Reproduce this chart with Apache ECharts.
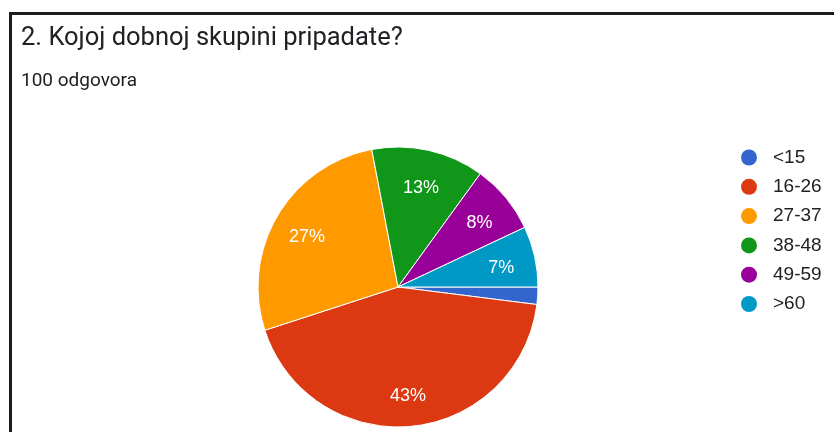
<!DOCTYPE html>
<html>
<head>
<meta charset="utf-8">
<script src="https://cdn.jsdelivr.net/npm/echarts@6/dist/echarts.min.js"></script>
<style>
  html, body { margin: 0; padding: 0; background: #fff; }
  #frame {
    position: absolute; left: 9px; top: 12px; width: 900px; height: 500px;
    border-left: 3px solid #1b1b1b; border-top: 3px solid #1b1b1b;
  }
  #chart { position: absolute; left: 0; top: 0; width: 834px; height: 432px; }
</style>
</head>
<body>
<div id="frame"></div>
<div id="chart"></div>
<script>
const titleText = '2. Kojoj dobnoj skupini pripadate?'
const subText = '100 odgovora'
const categories = ['<15', '16-26', '27-37', '38-48', '49-59', '>60']
const percents = [2, 43, 27, 13, 8, 7]
const colors = ['#3366cc', '#dc3912', '#ff9900', '#109618', '#990099', '#0099c6']

const cx = 398, cy = 287 // pie centre, px

const chart = echarts.init(document.getElementById('chart'))
chart.setOption({
  animation: false,
  title: {
    text: titleText,
    subtext: subText,
    left: 16,
    top: 21,
    itemGap: 20,
    textStyle: { fontFamily: 'Roboto', fontSize: 25.5, fontWeight: 'normal', color: '#202124' },
    subtextStyle: { fontFamily: 'Roboto', fontSize: 19, color: '#202124' }
  },
  legend: {
    orient: 'vertical',
    left: 741,
    top: 148,
    padding: 0,
    icon: 'circle',
    itemWidth: 16,
    itemHeight: 16,
    itemGap: 10.3,
    itemStyle: { borderWidth: 0 },
    textStyle: { fontFamily: 'Arial', fontSize: 19, color: '#222', padding: [0, 0, 0, 11] },
    data: categories
  },
  series: [{
    type: 'pie',
    center: [cx, cy],
    radius: [0, 140],
    startAngle: 0,
    clockwise: true,
    silent: true,
    itemStyle: { borderColor: '#fff', borderWidth: 1 },
    label: {
      show: true,
      position: 'inside',
      color: '#fff',
      fontFamily: 'Arial',
      fontSize: 18,
      formatter: p => p.value >= 5 ? p.value + '%' : ''
    },
    labelLayout: function (params) {
      // push labels outwards, to about 3/4 of the radius
      const r = params.labelRect
      const lx = r.x + r.width / 2
      const ly = r.y + r.height / 2
      return { x: cx + (lx - cx) * 1.45, y: cy + (ly - cy) * 1.45 + 4, align: 'center', verticalAlign: 'middle' }
    },
    data: categories.map((c, i) => ({ name: c, value: percents[i], itemStyle: { color: colors[i] } }))
  }]
})
</script>
</body>
</html>
